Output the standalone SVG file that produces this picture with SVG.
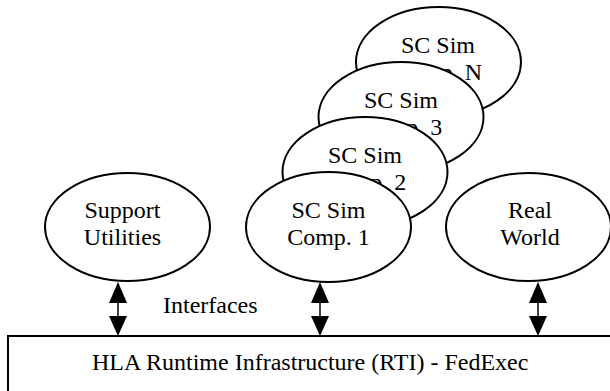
<svg xmlns="http://www.w3.org/2000/svg" width="610" height="391" viewBox="0 0 610 391">
<style>
  .node ellipse { fill: #ffffff; stroke: #000000; stroke-width: 2; }
  .lbl { font-family: "Liberation Serif", "Times New Roman", serif; font-size: 24px; fill: #000000; }
  .mid { text-anchor: middle; }
  .shaft { stroke: #000000; stroke-width: 1.5; fill: none; }
  .head { fill: #000000; stroke: none; }
  .box { fill: #ffffff; stroke: #000000; stroke-width: 2; }
</style>
<rect width="610" height="391" fill="#ffffff"/>
<g id="sc-sim-n" class="node">
  <ellipse cx="438.5" cy="62" rx="82.5" ry="55"/>
  <text class="lbl mid" x="438" y="53">SC Sim</text>
  <text class="lbl mid" x="438" y="80">Comp. N</text>
</g>
<g id="sc-sim-3" class="node">
  <ellipse cx="401" cy="117" rx="82.5" ry="55"/>
  <text class="lbl mid" x="401" y="108">SC Sim</text>
  <text class="lbl mid" x="401" y="135">Comp. 3</text>
</g>
<g id="sc-sim-2" class="node">
  <ellipse cx="365" cy="172" rx="82.5" ry="55"/>
  <text class="lbl mid" x="365" y="163">SC Sim</text>
  <text class="lbl mid" x="365" y="190">Comp. 2</text>
</g>
<g id="sc-sim-1" class="node">
  <ellipse cx="328.5" cy="227" rx="82.5" ry="55"/>
  <text class="lbl mid" x="328.5" y="218">SC Sim</text>
  <text class="lbl mid" x="328.5" y="245">Comp. 1</text>
</g>
<g id="support-utilities" class="node">
  <ellipse cx="127.5" cy="227" rx="82.5" ry="54"/>
  <text class="lbl mid" x="122.5" y="218">Support</text>
  <text class="lbl mid" x="122.5" y="245">Utilities</text>
</g>
<g id="real-world" class="node">
  <ellipse cx="528.5" cy="227" rx="82.5" ry="54"/>
  <text class="lbl mid" x="530" y="218">Real</text>
  <text class="lbl mid" x="530" y="245">World</text>
</g>
<g id="rti">
  <rect class="box" x="8" y="336" width="620" height="80"/>
  <text class="lbl" x="92" y="370">HLA Runtime Infrastructure (RTI) - FedExec</text>
</g>
<g id="connectors">
  <g id="arrow-support">
    <line class="shaft" x1="118" y1="300" x2="118" y2="318"/>
    <polygon class="head" points="118,282 127,303 109,303"/>
    <polygon class="head" points="118,336 127,316 109,316"/>
  </g>
  <g id="arrow-sc1">
    <line class="shaft" x1="320" y1="300" x2="320" y2="318"/>
    <polygon class="head" points="320,282 329,303 311,303"/>
    <polygon class="head" points="320,336 329,316 311,316"/>
  </g>
  <g id="arrow-real">
    <line class="shaft" x1="538" y1="300" x2="538" y2="318"/>
    <polygon class="head" points="538,282 547,303 529,303"/>
    <polygon class="head" points="538,336 547,316 529,316"/>
  </g>
  <text class="lbl" x="163" y="313">Interfaces</text>
</g>
</svg>
